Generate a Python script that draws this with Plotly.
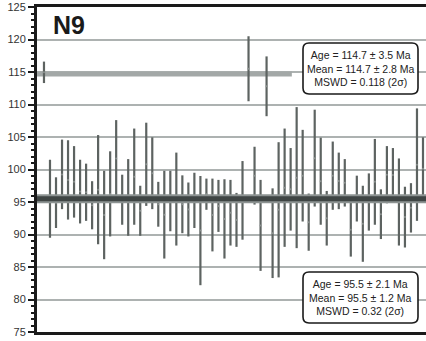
import plotly.graph_objects as go

# ---------------- data ----------------
# group A (older population, ~114.7 Ma): analysis index, low, high (2-sigma range)
a_idx = [0, 34, 37]
a_lo = [113.3, 110.5, 108.2]
a_hi = [116.6, 120.5, 117.4]

# group B (main population, ~95.5 Ma)
b_idx = [i for i in range(1, 64) if i not in (34, 37)]
b_lo = [89.5, 91.0, 93.9, 92.3, 92.6, 91.7, 92.1, 90.8, 88.5, 86.2,
        89.7, 95.8, 91.5, 89.8, 91.5, 89.8, 94.4, 93.9, 91.2, 86.3,
        90.5, 88.3, 90.2, 89.7, 91.0, 82.2, 93.8, 87.4, 90.4, 86.3,
        88.3, 88.1, 89.2, 94.6, 84.4, 83.3, 83.4, 88.1, 90.6, 87.9,
        92.0, 87.5, 94.3, 91.5, 88.3, 93.8, 93.9, 94.3, 86.6, 92.0,
        85.8, 90.6, 91.5, 89.3, 94.8, 95.0, 88.3, 88.0, 90.3, 92.1,
        95.3]
b_hi = [101.5, 98.8, 104.6, 104.5, 103.6, 101.5, 100.9, 98.2, 105.3, 99.8,
        102.8, 107.6, 99.2, 101.6, 106.3, 97.5, 107.2, 104.95, 98.1, 99.8,
        99.8, 102.6, 99.1, 98.0, 99.5, 99.0, 98.6, 98.6, 98.4, 98.5,
        98.4, 96.4, 101.3, 103.5, 98.4, 97.1, 104.2, 106.3, 103.3, 109.6,
        106.1, 96.3, 109.2, 104.9, 96.7, 104.3, 102.6, 101.6, 94.9, 99.05,
        97.5, 99.4, 104.7, 96.95, 103.6, 103.3, 101.7, 97.35, 97.9, 109.4,
        104.95]

mean_a = 114.7
mean_b = 95.5
mean_a_extent = [-1.2, 41.2]
x_range = [-1.16, 63.5]
y_range = [75, 125]

label_title = "N9"
box_a_text = "Age = 114.7 ± 3.5 Ma<br>Mean = 114.7 ± 2.8 Ma<br>MSWD = 0.118 (2σ)"
box_b_text = "Age = 95.5 ± 2.1 Ma<br>Mean = 95.5 ± 1.2 Ma<br>MSWD = 0.32 (2σ)"

# ---------------- styles ----------------
BAR = "#5d6361"
GRID = "#adb2b1"
FONT = "Liberation Sans, Arial, sans-serif"

fig = go.Figure()

# mean line of group A (light grey)
fig.add_trace(go.Scatter(x=mean_a_extent, y=[mean_a, mean_a], mode="lines",
                         line=dict(color="#a3a8a7", width=5), hoverinfo="skip"))


def bars(idx, lo, hi):
    mid = [(l + h) / 2 for l, h in zip(lo, hi)]
    err = [(h - l) / 2 for l, h in zip(lo, hi)]
    return go.Scatter(x=idx, y=mid, mode="markers",
                      marker=dict(size=2, color="#8c9290"),
                      error_y=dict(type="data", array=err, symmetric=True,
                                   color=BAR, thickness=2.2, width=0),
                      hoverinfo="skip")


fig.add_trace(bars(a_idx, a_lo, a_hi))
fig.add_trace(bars(b_idx, b_lo, b_hi))

# mean line of group B (dark, with lighter halo)
fig.add_trace(go.Scatter(x=x_range, y=[mean_b, mean_b], mode="lines",
                         line=dict(color="#8d9392", width=9), hoverinfo="skip"))
fig.add_trace(go.Scatter(x=x_range, y=[mean_b, mean_b], mode="lines",
                         line=dict(color="#3f4544", width=5), hoverinfo="skip"))

L, R, T, B = 37, 0, 7, 9
W, H = 426, 341
pw, ph = W - L - R, H - T - B


def px2paper(x, y):
    return (x - L) / pw, (H - B - y) / ph


def rounded_box(x0, y0, x1, y1, r=6):
    # pixel corners -> paper path with rounded corners
    X0, Y1 = px2paper(x0, y0)
    X1, Y0 = px2paper(x1, y1)
    rx, ry = r / pw, r / ph
    p = (f"M {X0+rx},{Y1} L {X1-rx},{Y1} Q {X1},{Y1} {X1},{Y1-ry} "
         f"L {X1},{Y0+ry} Q {X1},{Y0} {X1-rx},{Y0} "
         f"L {X0+rx},{Y0} Q {X0},{Y0} {X0},{Y0+ry} "
         f"L {X0},{Y1-ry} Q {X0},{Y1} {X0+rx},{Y1} Z")
    return dict(type="path", path=p, xref="paper", yref="paper",
                line=dict(color="#1a1a1a", width=1.6), fillcolor="white", layer="above")


shapes = [rounded_box(303, 43, 418, 94), rounded_box(303, 272, 418, 323)]

annotations = []
for (cx, cy, txt) in [(360.5, 68.5, box_a_text), (360.5, 297.5, box_b_text)]:
    ax, ay = px2paper(cx, cy)
    annotations.append(dict(x=ax, y=ay, xref="paper", yref="paper", text=txt,
                            showarrow=False, align="center", xanchor="center",
                            yanchor="middle",
                            font=dict(family=FONT, size=10.5, color="#222")))
tx, ty = px2paper(51, 25)
annotations.append(dict(x=tx, y=ty, xref="paper", yref="paper",
                        text="<b>" + label_title + "</b>", showarrow=False,
                        xanchor="left", yanchor="middle",
                        font=dict(family=FONT, size=25, color="#1a1a1a")))

fig.update_layout(
    width=W, height=H, margin=dict(l=L, r=R, t=T, b=B),
    paper_bgcolor="white", plot_bgcolor="white", showlegend=False,
    shapes=shapes, annotations=annotations,
    xaxis=dict(range=x_range, showgrid=False, zeroline=False,
               showticklabels=False, ticks="", showline=True, mirror=True,
               linecolor="#1a1a1a", linewidth=3),
    yaxis=dict(range=y_range, dtick=5, tick0=75, showgrid=True, gridcolor=GRID,
               gridwidth=2, zeroline=False, showline=True, linecolor="#1a1a1a",
               linewidth=3, ticks="outside", ticklen=6, tickwidth=2,
               tickcolor="#1a1a1a",
               tickfont=dict(family=FONT, size=11, color="#333"),
               minor=dict(dtick=1, ticks="outside", ticklen=3, tickwidth=1.5,
                          tickcolor="#1a1a1a", showgrid=False)),
)

fig.write_html("out.html")
